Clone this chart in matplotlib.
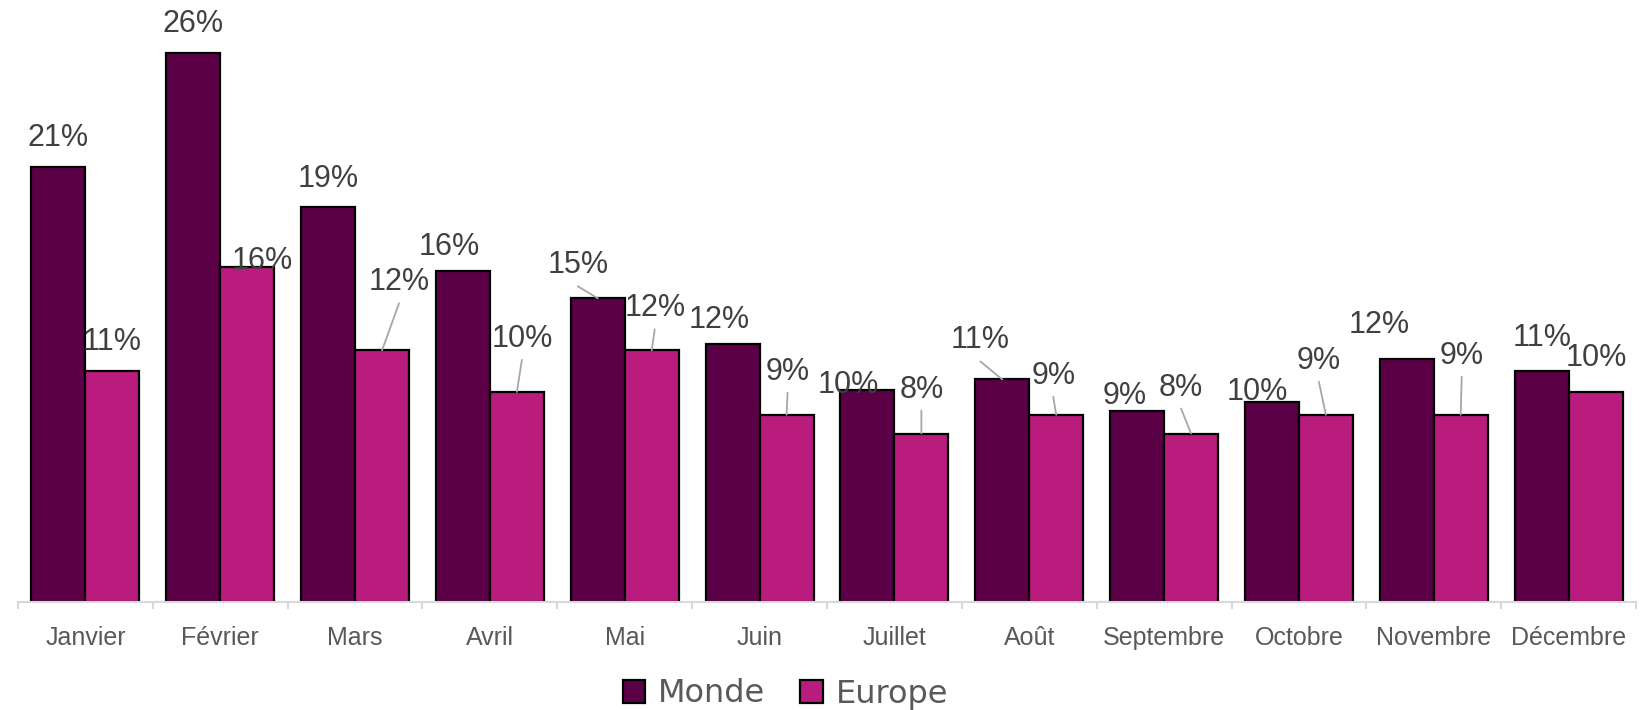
import numpy as np
import matplotlib.pyplot as plt

mois = ['Janvier', 'Février', 'Mars', 'Avril', 'Mai', 'Juin', 'Juillet',
        'Août', 'Septembre', 'Octobre', 'Novembre', 'Décembre']
monde = [20.9, 26.4, 19.0, 15.9, 14.6, 12.4, 10.2, 10.7, 9.2, 9.6, 11.7, 11.1]
europe = [11.1, 16.1, 12.1, 10.1, 12.1, 9.0, 8.1, 9.0, 8.1, 9.0, 9.0, 10.1]

# label placement (pixels from bar top centre) and leader-line flags
dx_m = [0, 0, 0, -14, -20, -13, -19, -22, -12, -15, -28, 1]
dy_m = [21, 21, 20, 16, 25, 16, -3, 31, 7, 2, 26, 25]
ld_m = [0, 0, 0, 0, 1, 0, 0, 1, 0, 0, 0, 0]
dx_e = [0, 15, 17, 5, 3, 1, 0, -3, -10, -7, 1, 1]
dy_e = [21, -2, 60, 45, 34, 35, 36, 31, 38, 46, 51, 26]
ld_e = [0, 0, 1, 1, 1, 1, 1, 1, 1, 1, 1, 0]

c_monde = '#5B0046'
c_europe = '#BA1C7E'

fig = plt.figure(figsize=(16.45, 7.10), dpi=100)
ax = fig.add_axes([18/1645, 1-602/710, (1636-18)/1645, (602-19.6)/710])

x = np.arange(len(mois))
w = 0.4
b1 = ax.bar(x - w/2, monde, w, color=c_monde, edgecolor='black', linewidth=1.6, label='Monde')
b2 = ax.bar(x + w/2, europe, w, color=c_europe, edgecolor='black', linewidth=1.6, label='Europe')

def labels(xs, vals, dxs, dys, lds):
    for xi, v, ddx, ddy, ld in zip(xs, vals, dxs, dys, lds):
        ax.annotate(f'{v:.0f}%', xy=(xi, v), xytext=(ddx, ddy), textcoords='offset pixels',
                    ha='center', va='baseline', fontsize=22, color='#404040',
                    family=['Liberation Sans', 'DejaVu Sans'], zorder=5)
        if ld:
            ax.annotate('', xy=(xi, v), xytext=(ddx, ddy - 13), textcoords='offset pixels',
                        arrowprops=dict(arrowstyle='-', color='#A6A6A6', lw=1.3,
                                        shrinkA=0, shrinkB=0))

labels(x - w/2, monde, dx_m, dy_m, ld_m)
labels(x + w/2, europe, dx_e, dy_e, ld_e)

ax.set_xlim(-0.5, len(mois) - 0.5)
ax.set_ylim(0, 28)
for s in ['top', 'right', 'left']:
    ax.spines[s].set_visible(False)
ax.spines['bottom'].set_color('#D9D9D9')
ax.spines['bottom'].set_linewidth(1.5)
ax.set_yticks([])
ax.set_xticks(x)
ax.set_xticklabels(mois, fontsize=18, color='#595959', family=['Liberation Sans', 'DejaVu Sans'])
ax.tick_params(axis='x', which='major', length=0, pad=17)
ax.set_xticks(np.arange(-0.5, len(mois)), minor=True)
ax.tick_params(axis='x', which='minor', length=5, width=1.5, color='#D9D9D9')

leg = fig.legend(handles=[b1, b2], loc='center', bbox_to_anchor=(785.5/1645, 1-694/710),
                 ncol=2, frameon=False, fontsize=23, handlelength=0.7, handleheight=0.7,
                 handletextpad=0.4, columnspacing=1.1, borderpad=0)
for t in leg.get_texts():
    t.set_color('#595959')

fig.savefig('out.png', dpi=100)
